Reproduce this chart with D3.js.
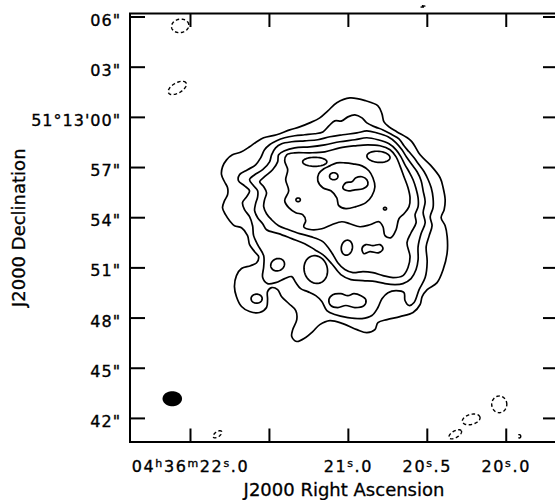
<!DOCTYPE html>
<html>
<head>
<meta charset="utf-8">
<script src="https://cdn.jsdelivr.net/npm/d3@7"></script>
<style>
  html, body { margin: 0; padding: 0; background: #fff; }
  svg text { font-family: "DejaVu Sans", sans-serif; fill: #000; }
</style>
</head>
<body>
<svg id="map" width="555" height="500"></svg>
<script>
// Map centre for all contour offsets: 04h36m21.0s, +51d13m00s (J2000)
const RA0_SEC = 21.0;                 // seconds of RA within 04h36m
const DEC0_DEG = 51 + 13 / 60;

// Plotted field: RA seconds (within 04h36m) and Dec offset in arcsec from 51d13m00s
const raField = [22.380, 19.669];
const decField = [6.18, -19.44];

// Axis ticks and their labels (odd-index parts of an RA label are superscripts)
const raTicks = [22.0, 21.5, 21.0, 20.5, 20.0];
const raTickLabels = [
  ["04", "h", "36", "m", "22", "s", ".0"],
  [],
  ["21", "s", ".0"],
  ["20", "s", ".5"],
  ["20", "s", ".0"]
];
const decTicks = [6, 3, 0, -3, -6, -9, -12, -15, -18];
const decTickLabels = ['06"', '03"', '51\u00b013\'00"', '57"', '54"', '51"', '48"', '45"', '42"'];

// Contour rings, [east offset, north offset] in arcsec, from the lowest level inward
const ring1 = [[7.52,-3.46],[7.46,-2.99],[7.22,-2.57],[6.87,-2.27],[6.33,-2.09],[5.85,-1.79],[5.43,-1.49],[5.01,-1.25],[4.24,-1.07],[3.46,-0.78],[2.87,-0.60],[2.27,-0.36],[1.67,-0.06],[1.19,0.36],[0.66,0.84],[-0.12,1.13],[-1.07,0.96],[-1.79,0.66],[-2.03,0.18],[-2.15,-0.30],[-2.45,-0.60],[-2.93,-0.90],[-3.76,-1.43],[-4.30,-2.27],[-4.90,-2.87],[-5.49,-3.64],[-5.67,-4.24],[-5.79,-4.96],[-5.73,-5.55],[-5.55,-6.03],[-5.79,-6.51],[-5.91,-7.16],[-5.91,-8.12],[-5.67,-9.13],[-5.31,-9.91],[-4.72,-10.33],[-4.42,-10.75],[-4.30,-11.22],[-3.88,-11.70],[-3.10,-11.94],[-2.33,-12.12],[-1.79,-12.30],[-1.61,-12.72],[-1.13,-12.90],[-0.54,-12.72],[0.30,-12.36],[1.07,-12.18],[1.67,-12.42],[2.09,-12.84],[2.51,-13.19],[3.04,-13.43],[3.34,-13.13],[3.28,-12.72],[3.04,-12.12],[3.10,-11.58],[3.52,-11.16],[3.94,-10.75],[4.18,-10.33],[4.54,-10.21],[4.78,-10.45],[4.78,-10.93],[4.84,-11.40],[5.25,-11.70],[5.85,-11.64],[6.33,-11.34],[6.63,-10.75],[6.75,-10.15],[6.63,-9.49],[6.33,-9.07],[5.79,-8.90],[5.43,-8.72],[5.31,-8.36],[5.55,-8.06],[5.85,-7.64],[5.97,-7.10],[6.33,-6.63],[6.75,-6.51],[7.04,-6.21],[7.28,-5.85],[7.46,-5.43],[7.34,-5.01],[7.16,-4.66],[7.16,-4.24],[7.34,-3.88]];

const ring2 = [[6.45,-3.46],[5.97,-3.16],[5.49,-2.87],[5.19,-2.45],[4.96,-1.97],[4.66,-1.67],[4.24,-1.43],[3.76,-1.25],[3.16,-1.13],[2.57,-1.07],[1.97,-1.01],[1.49,-0.90],[1.13,-0.54],[0.78,-0.24],[0.36,-0.24],[0,0],[-0.42,0.12],[-0.84,-0.06],[-1.13,-0.36],[-1.61,-0.60],[-2.09,-0.78],[-2.63,-1.07],[-3.04,-1.31],[-3.34,-1.73],[-3.64,-2.09],[-3.94,-2.45],[-4.24,-2.87],[-4.54,-3.28],[-4.78,-3.76],[-4.96,-4.24],[-5.07,-4.84],[-5.07,-5.43],[-4.90,-5.97],[-5.01,-6.51],[-4.84,-7.10],[-4.66,-7.76],[-4.72,-8.66],[-4.60,-9.61],[-4.24,-10.33],[-3.94,-11.10],[-3.64,-11.28],[-3.40,-10.98],[-3.34,-10.51],[-2.87,-10.39],[-2.39,-10.51],[-2.03,-10.87],[-1.79,-11.40],[-1.43,-11.88],[-0.84,-12.06],[0,-12.00],[0.78,-11.82],[1.25,-11.58],[1.55,-11.04],[1.91,-10.69],[2.39,-10.45],[2.81,-10.27],[3.10,-9.91],[3.34,-9.55],[3.76,-9.67],[4.30,-9.91],[4.78,-9.97],[5.07,-9.61],[5.01,-8.96],[5.01,-8.30],[5.37,-7.64],[5.61,-7.10],[5.67,-6.51],[5.85,-5.97],[6.15,-5.55],[6.27,-5.13],[6.03,-4.78],[5.85,-4.42],[6.15,-4.12],[6.51,-3.82]];

const ring3 = [[5.85,-3.76],[5.55,-3.46],[5.07,-3.16],[4.66,-2.69],[4.54,-2.27],[4.30,-1.85],[3.94,-1.61],[3.34,-1.49],[2.57,-1.43],[1.79,-1.37],[1.07,-1.19],[0.30,-1.07],[-0.54,-0.96],[-1.13,-0.84],[-1.73,-0.96],[-2.39,-1.19],[-2.87,-1.55],[-3.22,-1.97],[-3.52,-2.45],[-3.82,-2.87],[-4.12,-3.28],[-4.36,-3.82],[-4.48,-4.42],[-4.60,-5.07],[-4.48,-5.73],[-4.60,-6.33],[-4.36,-6.98],[-4.18,-7.76],[-4.18,-8.54],[-4.06,-9.13],[-3.76,-9.67],[-3.28,-9.97],[-2.81,-10.03],[-2.21,-9.97],[-1.67,-9.85],[-0.90,-9.79],[-0.18,-9.73],[0.42,-9.43],[0.96,-8.78],[1.49,-8.24],[1.97,-7.94],[2.57,-7.58],[3.34,-7.28],[4.12,-6.98],[4.84,-6.75],[5.07,-6.39],[5.37,-6.03],[5.55,-5.61],[5.49,-5.19],[5.37,-4.78],[5.37,-4.42],[5.61,-4.12]];

const ring4 = [[5.25,-3.88],[4.96,-3.58],[4.48,-3.16],[4.18,-2.69],[4.12,-2.27],[3.76,-2.03],[3.16,-1.85],[2.27,-1.79],[1.37,-1.67],[0.48,-1.49],[-0.42,-1.37],[-1.13,-1.25],[-1.79,-1.37],[-2.45,-1.61],[-2.87,-1.97],[-3.16,-2.39],[-3.40,-2.87],[-3.64,-3.28],[-3.88,-3.76],[-4.06,-4.30],[-4.18,-4.84],[-4.18,-5.37],[-4.00,-5.85],[-4.06,-6.33],[-3.76,-6.93],[-3.52,-7.52],[-3.70,-8.36],[-3.58,-9.01],[-3.28,-9.49],[-2.69,-9.61],[-2.09,-9.49],[-1.49,-9.31],[-0.90,-9.25],[-0.30,-9.31],[0.18,-9.13],[0.60,-8.72],[0.96,-8.12],[1.49,-7.46],[2.21,-7.16],[2.87,-6.98],[3.52,-6.75],[4.12,-6.51],[4.54,-6.15],[4.84,-5.79],[5.01,-5.37],[4.96,-4.96],[4.84,-4.54],[5.01,-4.18]];

const ring5 = [[3.70,-3.76],[3.58,-3.16],[3.76,-2.63],[3.64,-2.27],[3.16,-2.15],[2.27,-2.15],[1.37,-2.09],[0.48,-1.85],[-0.42,-1.73],[-1.19,-1.67],[-1.91,-1.73],[-2.51,-1.97],[-2.87,-2.39],[-3.10,-2.93],[-3.34,-3.58],[-3.58,-4.24],[-3.70,-4.84],[-3.64,-5.37],[-3.34,-5.79],[-3.04,-6.09],[-2.87,-6.75],[-2.57,-7.22],[-2.21,-7.10],[-2.09,-6.57],[-1.85,-6.27],[-1.31,-6.45],[-0.72,-6.57],[-0.12,-6.39],[0.36,-6.27],[0.96,-6.45],[1.55,-6.69],[2.15,-6.75],[2.63,-6.57],[2.51,-6.21],[2.69,-5.85],[3.10,-5.73],[3.52,-5.43],[3.76,-5.01],[3.52,-4.42]];

const ring6 = [[1.73,-3.40],[1.43,-3.10],[1.07,-2.93],[0.66,-2.75],[0.18,-2.75],[-0.30,-2.81],[-0.84,-2.93],[-1.25,-3.22],[-1.49,-3.64],[-1.61,-4.18],[-1.43,-4.72],[-1.07,-5.13],[-0.48,-5.37],[0.12,-5.49],[0.54,-5.31],[0.66,-4.84],[1.01,-4.42],[1.49,-4.24],[1.79,-3.82]];

// Smaller closed contours with irregular outlines
const southBean = [[1.13,-10.93],[0.90,-10.63],[0.42,-10.57],[0,-10.69],[-0.36,-10.57],[-0.78,-10.69],[-1.07,-10.93],[-0.96,-11.28],[-0.42,-11.40],[0.12,-11.28],[0.60,-11.40],[1.01,-11.28]];
const southEastBean = [[-0.84,-7.88],[-1.07,-7.64],[-1.49,-7.70],[-1.91,-7.64],[-2.09,-7.88],[-1.85,-8.12],[-1.31,-8.06],[-0.96,-8.18]];
const peakBean = [[0.30,-4.24],[0.12,-3.94],[-0.24,-3.88],[-0.48,-3.64],[-0.84,-3.58],[-1.13,-3.76],[-1.19,-4.06],[-0.90,-4.30],[-0.42,-4.36],[0,-4.42]];

// Compact positive islands: centre (e, n), semi-axes a (E-W) and b (N-S) in arcsec, tilt in degrees
const positiveIslands = [
  { e: 5.43, n: -10.87, a: 0.33, b: 0.27, rot: 0 },
  { e: 4.18, n: -8.84,  a: 0.42, b: 0.36, rot: 25 },
  { e: 1.91, n: -9.13,  a: 0.69, b: 0.84, rot: 15 },
  { e: 0.06, n: -7.82,  a: 0.33, b: 0.45, rot: -10 },
  { e: 1.97, n: -2.69,  a: 0.72, b: 0.27, rot: 0 },
  { e: -1.82, n: -2.39, a: 0.69, b: 0.33, rot: -5 },
  { e: 2.96, n: -4.96,  a: 0.13, b: 0.11, rot: 0 },
  { e: -2.21, n: -5.49, a: 0.09, b: 0.08, rot: 0 },
  { e: 0.84, n: -3.55,  a: 0.25, b: 0.21, rot: 0 }
];

// Negative (dashed) contours
const negativeIslands = [
  { e: 9.98,  n: 5.44,   a: 0.52, b: 0.40, rot: 10 },
  { e: 10.15, n: 1.73,   a: 0.60, b: 0.30, rot: 30 },
  { e: 7.76,  n: -18.98, a: 0.30, b: 0.15, rot: 35 },
  { e: -9.01, n: -17.19, a: 0.45, b: 0.50, rot: 0 },
  { e: -7.34, n: -18.09, a: 0.54, b: 0.30, rot: 15 },
  { e: -6.39, n: -18.98, a: 0.42, b: 0.20, rot: 30 },
  { e: -10.21, n: -19.10, a: 0.08, b: 0.10, rot: 0 },
  { e: -4.45, n: 6.60,   a: 0.15, b: 0.04, rot: 0 }
];

// Restoring beam (arcsec, PA in degrees east of north) and where it is drawn
const beam = { e: 10.45, n: -16.85, bmaj: 1.16, bmin: 0.90, pa: 90 };

// ---------------------------------------------------------------------------
const frame = { left: 130, right: 558, top: 13.5, bottom: 442 };
const cosDec = Math.cos(DEC0_DEG * Math.PI / 180);
const toRA = e => RA0_SEC + e / (15 * cosDec);

const x = d3.scaleLinear().domain(raField).range([frame.left, frame.right]);
const y = d3.scaleLinear().domain(decField).range([frame.top, frame.bottom]);

const svg = d3.select("#map");

function ellipseRing(d, n = 48) {
  const r = d.rot * Math.PI / 180;
  return d3.range(n).map(i => {
    const t = 2 * Math.PI * i / n;
    const u = d.a * Math.cos(t), v = d.b * Math.sin(t);
    const du = u * Math.cos(r) - v * Math.sin(r);
    const dv = u * Math.sin(r) + v * Math.cos(r);
    return [d.e - du, d.n + dv];
  });
}

const smooth = d3.line()
  .x(p => x(toRA(p[0])))
  .y(p => y(p[1]))
  .curve(d3.curveCatmullRomClosed.alpha(0.5));
const closed = d3.line()
  .x(p => x(toRA(p[0])))
  .y(p => y(p[1]))
  .curve(d3.curveLinearClosed);

// Positive contours
const pos = svg.append("g").attr("fill", "none").attr("stroke", "#000")
  .attr("stroke-width", 1.7).attr("stroke-linejoin", "round");
pos.selectAll("path.ring")
  .data([ring1, ring2, ring3, ring4, ring5, ring6, southBean, southEastBean, peakBean])
  .join("path").attr("class", "ring").attr("d", smooth);
pos.selectAll("path.island")
  .data(positiveIslands)
  .join("path").attr("class", "island").attr("d", d => closed(ellipseRing(d)));

// Negative contours
svg.append("g").attr("fill", "none").attr("stroke", "#000")
  .attr("stroke-width", 1.4).attr("stroke-dasharray", "3.5,2.5")
  .selectAll("path")
  .data(negativeIslands)
  .join("path").attr("d", d => closed(ellipseRing(d)));

// Beam
svg.append("path")
  .datum(beam)
  .attr("fill", "#000")
  .attr("d", b => closed(ellipseRing({ e: b.e, n: b.n, a: b.bmaj / 2, b: b.bmin / 2, rot: 90 + b.pa })));

// Axes: ticks point inward on all four sides
const axisStyle = g => {
  g.select(".domain").remove();
  g.selectAll(".tick line").attr("stroke", "#000").attr("stroke-width", 2);
  g.attr("font-family", "DejaVu Sans").attr("font-size", 16);
};

svg.append("g")
  .attr("transform", `translate(${frame.left},0)`)
  .call(d3.axisLeft(y).tickValues(decTicks).tickSize(-15).tickPadding(9)
    .tickFormat((d, i) => decTickLabels[i]))
  .call(axisStyle)
  .call(g => g.selectAll(".tick text").attr("dy", null).attr("y", 8.5)
    .attr("letter-spacing", 1).attr("fill", "#000")
    .attr("stroke", "#000").attr("stroke-width", 0.35));

svg.append("g")
  .attr("transform", `translate(${frame.right},0)`)
  .call(d3.axisRight(y).tickValues(decTicks).tickSize(-15).tickFormat(""))
  .call(axisStyle)
  .call(g => g.selectAll(".tick text").remove());

svg.append("g")
  .attr("transform", `translate(0,${frame.top})`)
  .call(d3.axisTop(x).tickValues(raTicks).tickSize(-13.5).tickFormat(""))
  .call(axisStyle)
  .call(g => g.selectAll(".tick text").remove());

const bottomAxis = svg.append("g")
  .attr("transform", `translate(0,${frame.bottom})`)
  .call(d3.axisBottom(x).tickValues(raTicks).tickSize(-13.5).tickFormat(""))
  .call(axisStyle);
bottomAxis.selectAll(".tick text").each(function (d, i) {
  const t = d3.select(this).text(null)
    .attr("dy", null).attr("y", 30.3)
    .attr("letter-spacing", 1.6).attr("fill", "#000")
    .attr("stroke", "#000").attr("stroke-width", 0.35);
  raTickLabels[i].forEach((part, j) => {
    const sup = j % 2 === 1;
    t.append("tspan")
      .attr("font-size", sup ? 11 : 16)
      .attr("dy", sup ? -5.6 : (j > 0 ? 5.6 : 0))
      .text(part);
  });
});

// Frame
svg.append("rect")
  .attr("x", frame.left).attr("y", frame.top)
  .attr("width", frame.right - frame.left).attr("height", frame.bottom - frame.top)
  .attr("fill", "none").attr("stroke", "#000").attr("stroke-width", 2);

// Axis titles
svg.append("text")
  .attr("x", (frame.left + frame.right) / 2).attr("y", 495.5)
  .attr("text-anchor", "middle").attr("font-size", 18)
  .attr("stroke", "#000").attr("stroke-width", 0.3)
  .text("J2000 Right Ascension");
svg.append("text")
  .attr("transform", `translate(25,${(frame.top + frame.bottom) / 2}) rotate(-90)`)
  .attr("text-anchor", "middle").attr("font-size", 18)
  .attr("stroke", "#000").attr("stroke-width", 0.3)
  .text("J2000 Declination");
</script>
</body>
</html>
